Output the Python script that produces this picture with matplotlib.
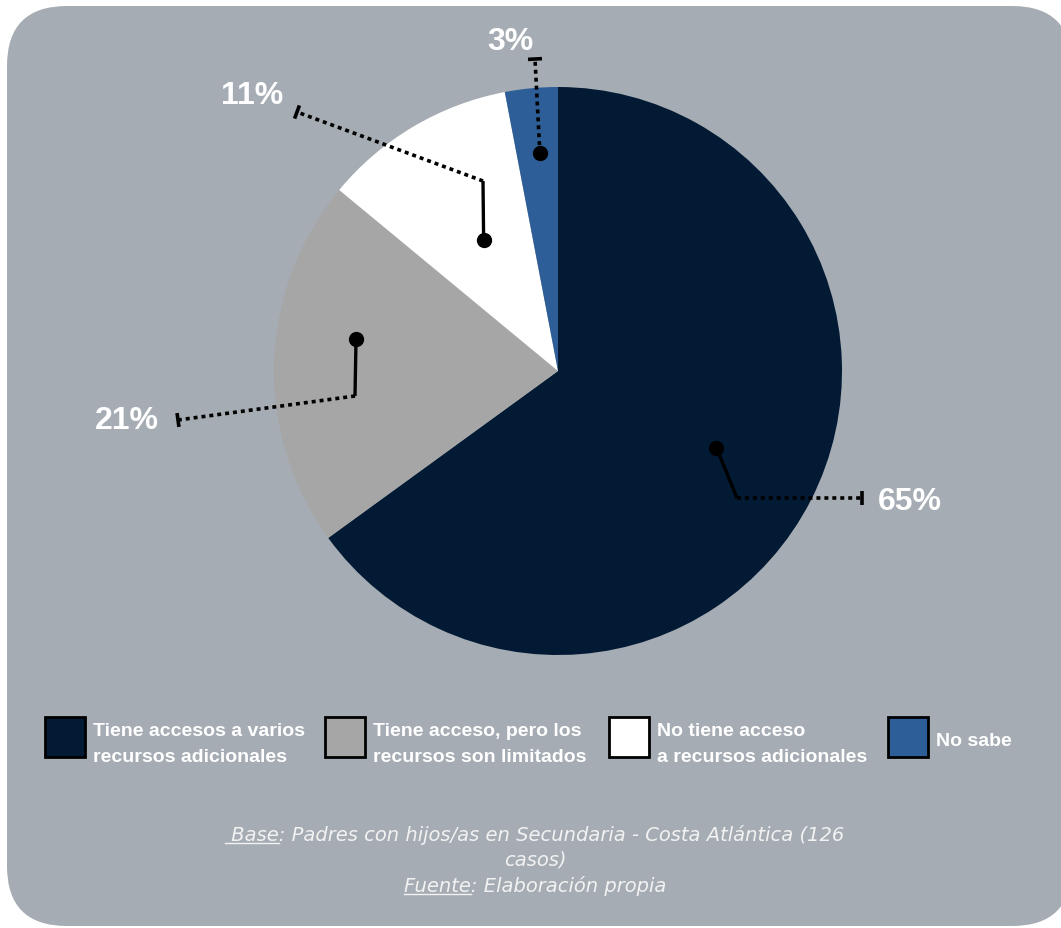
import matplotlib
matplotlib.use("Agg")

import numpy as np
import matplotlib.pyplot as plt
from matplotlib.patches import FancyBboxPatch, Rectangle


# =====================================================
# DATOS
# =====================================================
categorias = [
    "Tiene accesos a varios\nrecursos adicionales",
    "Tiene acceso, pero los\nrecursos son limitados",
    "No tiene acceso\na recursos adicionales",
    "No sabe",
]
porcentajes = [65, 21, 11, 3]
etiquetas = ["65%", "21%", "11%", "3%"]
colores = ["#021A33", "#A6A6A6", "#FFFFFF", "#2D5E97"]

nota_base = (" Base", ": Padres con hijos/as en Secundaria - Costa Atlántica (126")
nota_base_2 = "casos)"
nota_fuente = ("Fuente", ": Elaboración propia")


# =====================================================
# LIENZO (coordenadas en pixeles -> radio del pastel = 1)
# =====================================================
W, H = 1061, 929
CX, CY, R = 558, 372, 284
FONDO = "#A5ACB3"
TEXTO = "#FFFFFF"


def px(x, y):
    return ((x - CX) / R, (CY - y) / R)


fig = plt.figure(figsize=(W / 100, H / 100), dpi=100)
fig.patch.set_facecolor("white")
ax = fig.add_axes([0, 0, 1, 1])

fondo = FancyBboxPatch(
    px(7, 927), (1072 - 7) / R, (927 - 7) / R,
    boxstyle=f"round,pad=0,rounding_size={60 / R}",
    fc=FONDO, ec="none", zorder=0, clip_on=False,
)
ax.add_patch(fondo)

wedges, _ = ax.pie(
    porcentajes, colors=colores, startangle=90, counterclock=False,
    radius=1, center=(0, 0), wedgeprops=dict(linewidth=0),
)
for w in wedges:
    w.set_zorder(2)

ax.set_xlim(px(0, 0)[0], px(W, 0)[0])
ax.set_ylim(px(0, H)[1], px(0, 0)[1])
ax.set_aspect("auto")
ax.axis("off")


# =====================================================
# LINEAS GUIA + ETIQUETAS
# =====================================================
# pos: fraccion dentro de la porcion, r: distancia al centro (en radios)
guias = [
    dict(pos=0.495, r=0.62, codo=(737, 499), fin=(862, 499), txt=(910, 502)),
    dict(pos=0.595, r=0.72, codo=(355, 397), fin=(178, 421), txt=(127, 421)),
    dict(pos=0.525, r=0.53, codo=(483, 182), fin=(297, 113), txt=(252, 96)),
    dict(pos=0.56, r=0.77, codo=None, fin=(535, 60), txt=(510, 42)),
]

for w, g, lab in zip(wedges, guias, etiquetas):
    ang = np.deg2rad(w.theta2 - g["pos"] * (w.theta2 - w.theta1))
    p0 = np.array([g["r"] * np.cos(ang), g["r"] * np.sin(ang)])
    fin = np.array(px(*g["fin"]))

    if g["codo"] is not None:
        codo = np.array(px(*g["codo"]))
        ax.plot([p0[0], codo[0]], [p0[1], codo[1]], color="black",
                lw=2.4, solid_capstyle="butt", zorder=3)
    else:
        codo = p0
    ax.plot([codo[0], fin[0]], [codo[1], fin[1]], color="black", lw=2.6,
            linestyle=(0, (1.1, 1.1)), dash_capstyle="butt", zorder=3)

    # remate perpendicular al final de la linea
    d = fin - codo
    d = d / np.hypot(*d)
    perp = np.array([-d[1], d[0]]) * (7 / R)
    ax.plot([fin[0] - perp[0], fin[0] + perp[0]],
            [fin[1] - perp[1], fin[1] + perp[1]],
            color="black", lw=2.6, solid_capstyle="butt", zorder=3)

    ax.plot(p0[0], p0[1], "o", ms=10, color="black", zorder=4)

    tx, ty = px(*g["txt"])
    ax.text(tx, ty, lab, ha="center", va="center", color=TEXTO,
            fontsize=23, fontweight="bold", family="Liberation Sans", zorder=5)


# =====================================================
# LEYENDA
# =====================================================
leyenda_x = [45, 325, 609, 888]
for x0, cat, col in zip(leyenda_x, categorias, colores):
    y0 = 718
    ax.add_patch(Rectangle(px(x0, y0 + 40), 40 / R, 40 / R, fc=col,
                           ec="black", lw=2, zorder=3, clip_on=False))
    lineas = cat.split("\n")
    if len(lineas) == 1:
        bases = [746]
    else:
        bases = [736, 762]
    for linea, yb in zip(lineas, bases):
        tx, ty = px(x0 + 48, yb)
        ax.text(tx, ty, linea, ha="left", va="baseline", color=TEXTO,
                fontsize=14, fontweight="bold", family="Liberation Sans",
                zorder=5)


# =====================================================
# NOTA AL PIE (con subrayado en "Base" y "Fuente")
# =====================================================
renderer = fig.canvas.get_renderer()
estilo_nota = dict(color="#F2F2F2", fontsize=14, style="italic",
                   family="DejaVu Sans", zorder=5)


def linea_nota(y, partes):
    tx, ty = px(535, y)
    t = ax.text(tx, ty, "".join(partes), ha="center", va="baseline",
                **estilo_nota)
    if len(partes) > 1:
        bb = t.get_window_extent(renderer)
        tmp = ax.text(0, 0, partes[0], **estilo_nota)
        ancho = tmp.get_window_extent(renderer).width
        tmp.remove()
        inv = ax.transData.inverted()
        y_sub = fig.dpi * fig.get_figheight() - y - 3
        a = inv.transform((bb.x0, y_sub))
        b = inv.transform((bb.x0 + ancho, y_sub))
        ax.plot([a[0], b[0]], [a[1], b[1]], color="#F2F2F2", lw=1,
                zorder=5)


linea_nota(841, nota_base)
linea_nota(866, (nota_base_2,))
linea_nota(892, nota_fuente)

fig.savefig("out.png", dpi=100, facecolor=fig.get_facecolor())
plt.close(fig)
